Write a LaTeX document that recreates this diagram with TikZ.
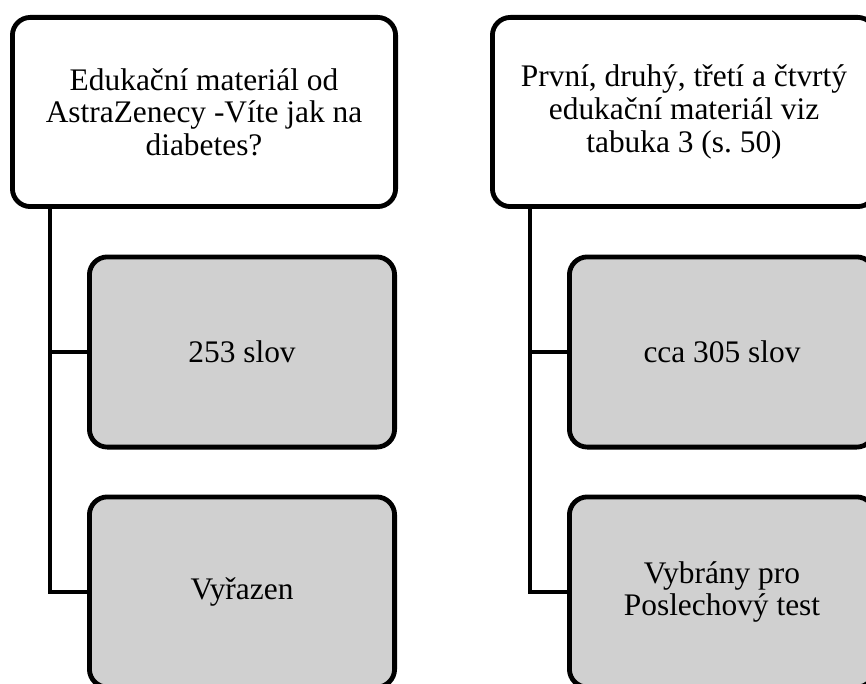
\documentclass[tikz,border=0pt]{standalone}
\usepackage{fontspec}
\setmainfont{Liberation Serif}
\usetikzlibrary{trees}
\definecolor{boxgray}{RGB}{208,208,208}

\begin{document}
\begin{tikzpicture}[
       edge from parent path=
    {([xshift=20pt]\tikzparentnode.south west) |- (\tikzchildnode.west)},
    edge from parent/.style={draw,line width=2.4pt},
    level 1/.style={grow via three points={one child at (19pt,-120pt)
        and two children at (19pt,-120pt) and (19pt,-240pt)}},
   every node/.style={draw,line width=2.4pt,rounded corners=9pt,align=center,
        font=\fontsize{15.7}{16.3}\selectfont},
   topbox/.style={minimum width=191.6pt,minimum height=94.6pt,fill=white},
   subbox/.style={minimum width=152.6pt,minimum height=95.1pt,fill=boxgray}]

\useasboundingbox (0,0) rectangle (433pt,-342pt);

\node[topbox] (edukace) at (102pt,-56pt)
    {Edukační materiál od\\ AstraZenecy -Víte jak na\\ diabetes?}
    child {node[subbox] (slova253) {253 slov}}
    child {node[subbox] (vyrazen) {Vyřazen}};

\node[topbox] (materialy) at (342pt,-56pt)
    {První, druhý, třetí a čtvrtý\\ edukační materiál viz\\ tabuka 3 (s.\ 50)}
    child {node[subbox] (slova305) {cca 305 slov}}
    child {node[subbox] (vybrany) {Vybrány pro\\ Poslechový test}};

\end{tikzpicture}
\end{document}
